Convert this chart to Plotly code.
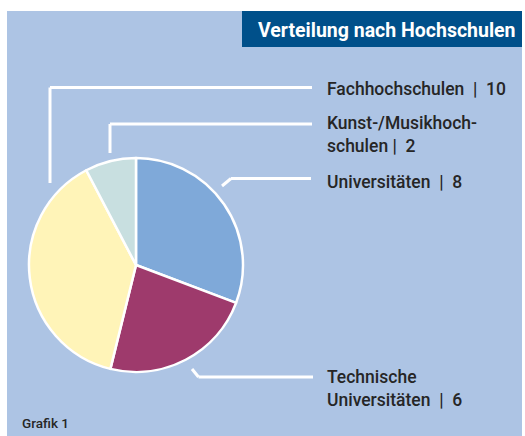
import plotly.graph_objects as go

categories = ["Universitäten", "Technische Universitäten", "Fachhochschulen", "Kunst-/Musikhochschulen"]
values = [8, 6, 10, 2]
colors = ["#7fa9d9", "#9e3a6c", "#fff4b8", "#c8dfe0"]
label_texts = {
    "Fachhochschulen": "Fachhochschulen  |  10",
    "Kunst-/Musikhochschulen": "Kunst-/Musikhoch-<br>schulen |  2",
    "Universitäten": "Universitäten  |  8",
    "Technische Universitäten": "Technische<br>Universitäten  |  6",
}
title_text = "Verteilung nach Hochschulen"
footer_text = "Grafik 1"

W, H = 525, 436
def px(x): return x / W
def py(y): return 1 - y / H

cx, cy, r = 136, 265, 107

fig = go.Figure(go.Pie(
    labels=categories, values=values, sort=False, direction="clockwise", rotation=0,
    marker=dict(colors=colors, line=dict(color="white", width=2.5)),
    textinfo="none", hoverinfo="label+value", showlegend=False,
    domain=dict(x=[px(cx - r), px(cx + r)], y=[py(cy + r), py(cy - r)]),
))

shapes = [
    dict(type="rect", xref="paper", yref="paper", x0=px(7), x1=px(522), y0=py(437), y1=py(11),
         fillcolor="#adc4e4", line=dict(width=0), layer="below"),
    dict(type="rect", xref="paper", yref="paper", x0=px(242), x1=px(522), y0=py(47), y1=py(11),
         fillcolor="#00508a", line=dict(width=0), layer="below"),
]
line_paths = [
    [(50, 183), (50, 87.5), (312, 87.5)],
    [(110, 153), (110, 124), (312, 124)],
    [(222, 186), (231, 178.5), (311, 178.5)],
    [(192, 369), (198.5, 377), (313, 377)],
]
for pts in line_paths:
    for (x0, y0), (x1, y1) in zip(pts[:-1], pts[1:]):
        shapes.append(dict(type="line", xref="paper", yref="paper",
                           x0=px(x0), y0=py(y0), x1=px(x1), y1=py(y1),
                           line=dict(color="white", width=3)))

font = dict(family="Roboto", size=17.5, color="#262626", weight=500)
label_pos = {
    "Fachhochschulen": 88,
    "Kunst-/Musikhochschulen": 133,
    "Universitäten": 180.5,
    "Technische Universitäten": 387.5,
}
annotations = [
    dict(text=title_text, x=px(256), y=py(30), xref="paper", yref="paper", xanchor="left",
         yanchor="middle", showarrow=False,
         font=dict(family="Roboto", size=19.5, color="white", weight="bold")),
    dict(text=footer_text, x=px(19.5), y=py(422.5), xref="paper", yref="paper", xanchor="left",
         yanchor="middle", showarrow=False,
         font=dict(family="Roboto", size=13.5, color="#262626", weight=500)),
]
for cat in categories:
    annotations.append(dict(text=label_texts[cat], x=px(325), y=py(label_pos[cat] + 1),
                            xref="paper", yref="paper", xanchor="left", yanchor="middle",
                            align="left", showarrow=False, font=font))

fig.update_layout(width=W, height=H, margin=dict(l=0, r=0, t=0, b=0),
                  paper_bgcolor="white", plot_bgcolor="white",
                  shapes=shapes, annotations=annotations)
fig.write_html("out.html", config={"displayModeBar": False},
               post_script="document.body.style.margin='0';document.body.style.padding='0';document.body.style.overflow='hidden';")
